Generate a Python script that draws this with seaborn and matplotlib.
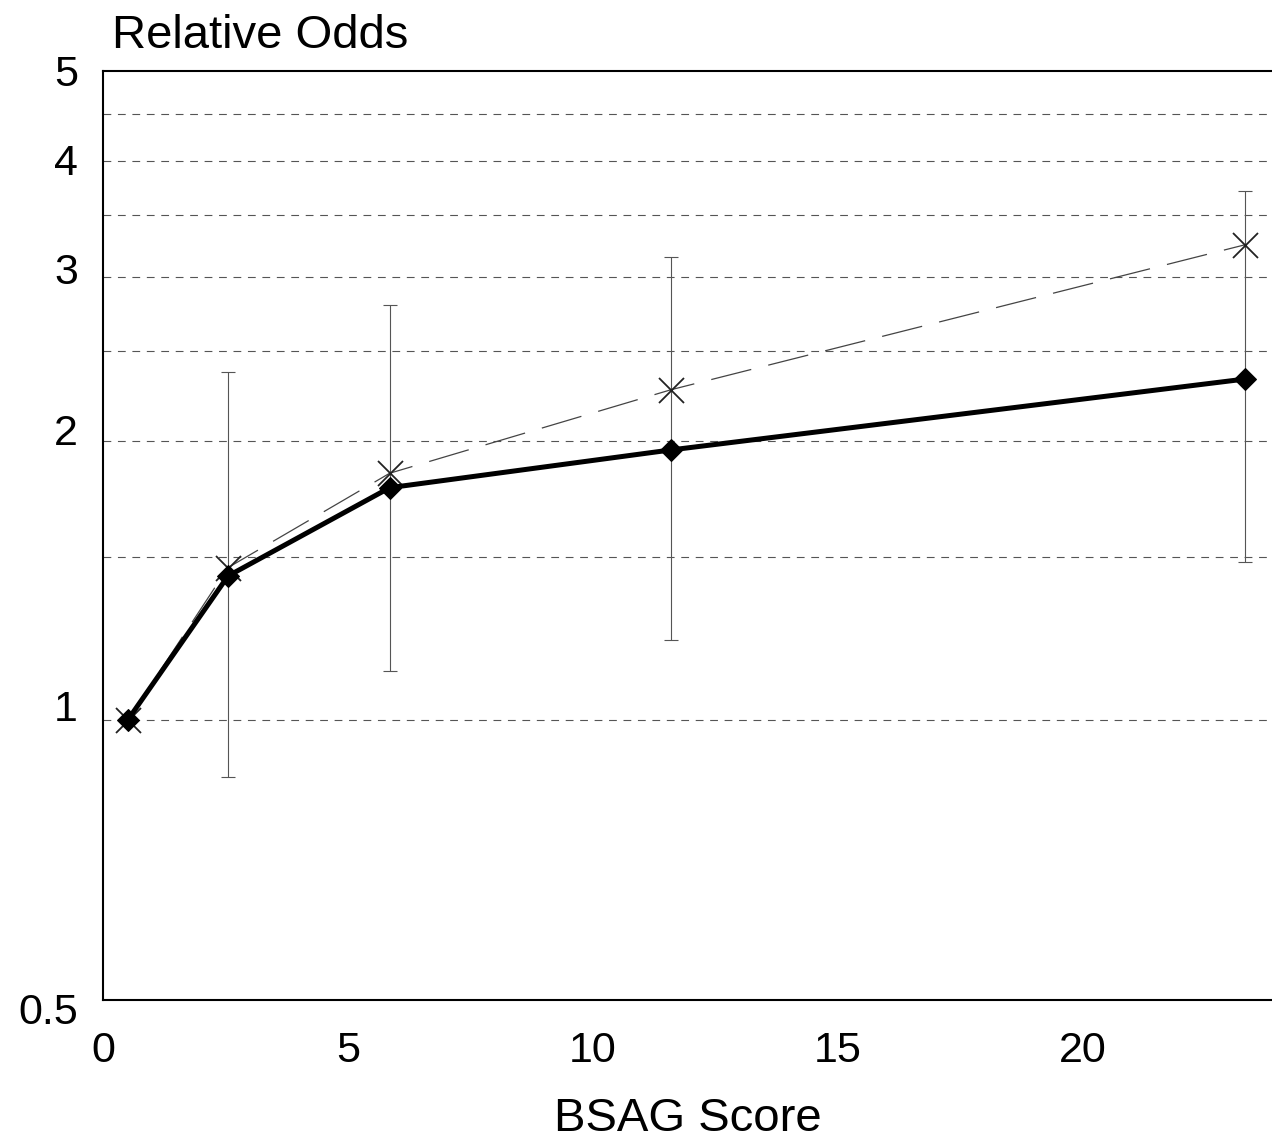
import numpy as np
import pandas as pd
import matplotlib
matplotlib.use("Agg")
import matplotlib.pyplot as plt
import seaborn as sns
from matplotlib.transforms import ScaledTranslation

# ---- data ----
bsag_score = [0.5, 2.55, 5.85, 11.6, 23.3]
odds_solid = [1.0, 1.43, 1.78, 1.955, 2.33]
odds_dashed = [1.0, 1.46, 1.845, 2.27, 3.25]
ci_lower = [1.0, 0.87, 1.13, 1.22, 1.48]
ci_upper = [1.0, 2.37, 2.80, 3.15, 3.71]
ytick_vals = [0.5, 1, 2, 3, 4, 5]
ytick_labels = ["0.5", "1", "2", "3", "4", "5"]
grid_vals = [1, 1.5, 2, 2.5, 3, 3.5, 4, 4.5]
xtick_vals = [0, 5, 10, 15, 20]

# label vertical nudges (pixels, styling only)
label_nudge_px = {"0.5": -8, "1": 15, "2": 11, "3": 9, "4": 2, "5": 0}

sns.set_style("white")
plt.rcParams['font.family'] = ['Liberation Sans', 'DejaVu Sans']
plt.rcParams['text.color'] = 'black'

fig = plt.figure(figsize=(12.72, 11.43), dpi=100)
ax = fig.add_axes([103/1272, 143/1143, 1186/1272, 929/1143])

ax.set_yscale('log')
ax.set_xlim(0, 24.2)
ax.set_ylim(0.5, 5)
ax.grid(False)

# dashed horizontal grid lines
for g in grid_vals:
    ax.axhline(g, color='#555555', linewidth=0.8, linestyle=(0, (7, 6)), zorder=1)

# error bars
lo = np.array(odds_solid) - np.array(ci_lower)
hi = np.array(ci_upper) - np.array(odds_solid)
ax.errorbar(bsag_score[1:], odds_solid[1:], yerr=[lo[1:], hi[1:]],
            fmt='none', ecolor='#555555', elinewidth=0.8, capsize=5, capthick=0.8, zorder=2)

df = pd.DataFrame({"score": bsag_score, "solid": odds_solid, "dashed": odds_dashed})

sns.lineplot(data=df, x="score", y="dashed", ax=ax, color='#444444', linewidth=0.9,
             marker='x', markersize=18, markeredgewidth=1.3,
             markeredgecolor='#222222', zorder=3)
ax.lines[-1].set_dashes((33, 14))
sns.lineplot(data=df, x="score", y="solid", ax=ax, color='black', linewidth=3.6,
             marker='D', markersize=11, markeredgecolor='black', markerfacecolor='black',
             zorder=4)

# ticks
ax.set_yticks(ytick_vals)
ax.set_yticklabels(ytick_labels)
ax.yaxis.set_minor_locator(matplotlib.ticker.NullLocator())
ax.set_xticks(xtick_vals)
ax.set_xticklabels([str(v) for v in xtick_vals])
ax.tick_params(axis='y', which='both', length=0, labelsize=31, pad=18, labelcolor='black')
ax.tick_params(axis='x', which='both', length=0, labelsize=31, pad=22, labelcolor='black')
for lab in ax.get_yticklabels():
    dy = label_nudge_px.get(lab.get_text(), 0)
    lab.set_transform(lab.get_transform() + ScaledTranslation(0, dy / 100, fig.dpi_scale_trans))

ax.set_xlabel("")
ax.set_ylabel("")

for s in ['left', 'bottom', 'top']:
    ax.spines[s].set_visible(True)
    ax.spines[s].set_color('black')
    ax.spines[s].set_linewidth(1.5)
ax.spines['right'].set_visible(False)

fig.text(112/1272, 1 - 48/1143, "Relative Odds", fontsize=34, ha='left', va='baseline', color='black')
fig.text(688/1272, 1 - 1131/1143, "BSAG Score", fontsize=34, ha='center', va='baseline', color='black')

fig.savefig("out.png", dpi=100, facecolor='white')
